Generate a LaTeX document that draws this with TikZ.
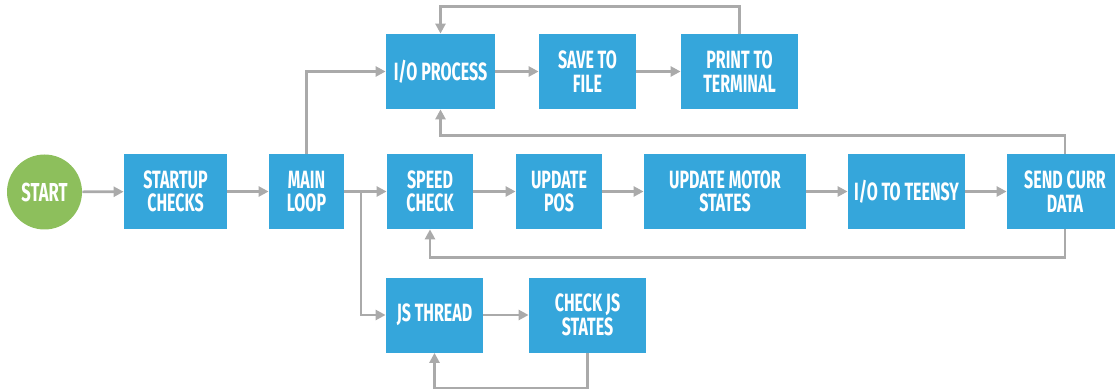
\documentclass[tikz,border=0pt]{standalone}
\usepackage{fontspec}
\setmainfont[FakeStretch=0.64]{Fira Sans}
\usepackage{tikz}
\usetikzlibrary{arrows.meta}

\definecolor{boxblue}{RGB}{53,166,219}
\definecolor{startgreen}{RGB}{141,191,92}
\definecolor{linegray}{RGB}{170,170,170}

\tikzset{
	block/.style={fill=boxblue, text=white, minimum height=37.5pt, inner sep=0pt,
		align=center, font=\fontsize{12.5}{11.8}\selectfont\bfseries},
	startnode/.style={circle, fill=startgreen, text=white, minimum size=37.5pt, inner sep=0pt,
		font=\fontsize{13}{12}\selectfont\bfseries},
	flow/.style={draw=linegray, line width=1.35pt, -{Triangle[length=5pt,width=5pt]}}
}

\begin{document}
\begin{tikzpicture}[x=0.5pt, y=-0.5pt]

	\clip (0,0) rectangle (1115,390);

	\node[startnode] (start) at (44.5,192) {START};
	\node[block, minimum width=51.5pt] (startup) at (175.5,191.5) {STARTUP\\CHECKS};
	\node[block, minimum width=37.5pt] (mainloop) at (306.5,191.5) {MAIN\\LOOP};

	\node[block, minimum width=54.5pt] (io) at (440.5,71.5) {I/O PROCESS};
	\node[block, minimum width=48.5pt] (save) at (587.5,71.5) {SAVE TO\\FILE};
	\node[block, minimum width=58.5pt] (print) at (739.5,71.5) {PRINT TO\\TERMINAL};

	\node[block, minimum width=43pt] (speed) at (430,191.5) {SPEED\\CHECK};
	\node[block, minimum width=43pt] (updpos) at (559,191.5) {UPDATE\\POS};
	\node[block, minimum width=81pt] (motor) at (725,191.5) {UPDATE MOTOR\\STATES};
	\node[block, minimum width=58.5pt] (teensy) at (906.5,191.5) {I/O TO TEENSY};
	\node[block, minimum width=58pt] (send) at (1065,191.5) {SEND CURR\\DATA};

	\node[block, minimum width=48.5pt] (jsthread) at (434.5,315) {JS THREAD};
	\node[block, minimum width=58.5pt] (checkjs) at (587.5,315) {CHECK JS\\STATES};

	\coordinate (split) at (361,191.5);

	\draw[flow] (start) -- (startup);
	\draw[flow] (startup) -- (mainloop);
	\draw[flow] (mainloop) -- (speed);
	\draw[flow] (mainloop.north) |- (io.west);
	\draw[flow] (split) |- (jsthread.west);

	\draw[flow] (io) -- (save);
	\draw[flow] (save) -- (print);
	\draw[flow] (print.north) -- ++(0,-27) -| (io.north);

	\draw[flow] (speed) -- (updpos);
	\draw[flow] (updpos) -- (motor);
	\draw[flow] (motor) -- (teensy);
	\draw[flow] (teensy) -- (send);
	\draw[flow] (send.north) -- ++(0,-18) -| (io.south);
	\draw[flow] (send.south) -- ++(0,28) -| (speed.south);

	\draw[flow] (jsthread) -- (checkjs);
	\draw[flow] (checkjs.south) -- ++(0,35) -| (jsthread.south);

\end{tikzpicture}
\end{document}
